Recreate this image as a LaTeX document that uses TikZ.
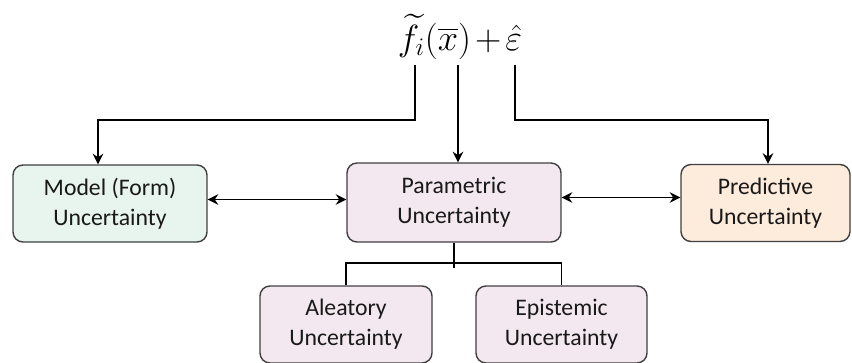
\documentclass[tikz,border=0pt]{standalone}
\usepackage{fontspec}
\setmainfont{Carlito}
\usepackage{amsmath}
\definecolor{boxgray}{RGB}{64, 64, 64}
\definecolor{modelgreen}{RGB}{232, 244, 238}
\definecolor{parampink}{RGB}{243, 232, 240}
\definecolor{predpeach}{RGB}{253, 235, 220}
\usetikzlibrary{arrows.meta, positioning}
\tikzstyle{uncbox} = [draw=boxgray, rounded corners=0.2cm, line width=0.8pt,
                      minimum height=1.54cm, align=center, text=black!90,
                      font=\fontsize{13.5}{17}\selectfont]
\tikzstyle{link} = [line width=0.8pt, black]

\begin{document}
\begin{tikzpicture}
                    \useasboundingbox (0, 0) rectangle (17.04, 7.24);
                    \node (eq) at (9.20, 6.50) {\fontsize{22}{26}\selectfont $\medmuskip=2mu \widetilde{f}_i(\overline{x}) + \hat{\varepsilon}$};
                    \node[uncbox, fill=modelgreen, minimum width=3.88cm] (model) at (2.20, 3.17) {Model (Form)\\Uncertainty};
                    \node[uncbox, fill=parampink, minimum width=4.28cm, minimum height=1.58cm] (param) at (9.08, 3.19) {Parametric\\Uncertainty};
                    \node[uncbox, fill=predpeach, minimum width=3.38cm] (pred) at (15.31, 3.18) {Predictive\\Uncertainty};
                    \node[uncbox, fill=parampink, minimum width=3.44cm] (alea) at (6.92, 0.75) {Aleatory\\Uncertainty};
                    \node[uncbox, fill=parampink, minimum width=3.42cm] (epis) at (11.23, 0.75) {Epistemic\\Uncertainty};
                    % taps under the formula
                    \coordinate (ftap) at (8.30, 5.94);
                    \coordinate (xtap) at (9.16, 5.94);
                    \coordinate (etap) at (10.30, 5.94);
                    \draw[link, -{Stealth[length=6pt, width=6pt]}] (ftap) |- (1.96, 4.84) -- (model.north -| 1.96, 0);
                    \draw[link, -{Stealth[length=6pt, width=6pt]}] (xtap) -- (param.north -| xtap);
                    \draw[link, -{Stealth[length=6pt, width=6pt]}] (etap) |- (15.36, 4.84) -- (pred.north -| 15.36, 0);
                    \draw[link, {Stealth[length=6pt, width=6pt]}-{Stealth[length=6pt, width=6pt]}] (model.east) ++(0, 0.08) coordinate (mr) -- (param.west |- mr);
                    \draw[link, {Stealth[length=6pt, width=6pt]}-{Stealth[length=6pt, width=6pt]}] (param.east) ++(0, 0.1) coordinate (pr) -- (pred.west |- pr);
                    % split into the two kinds
                    \draw[link] (param.south) -- ++(0, -0.5);
                    \draw[link] (alea.north) |- (9.08, 1.98) -| (epis.north);
                \end{tikzpicture}
\end{document}
